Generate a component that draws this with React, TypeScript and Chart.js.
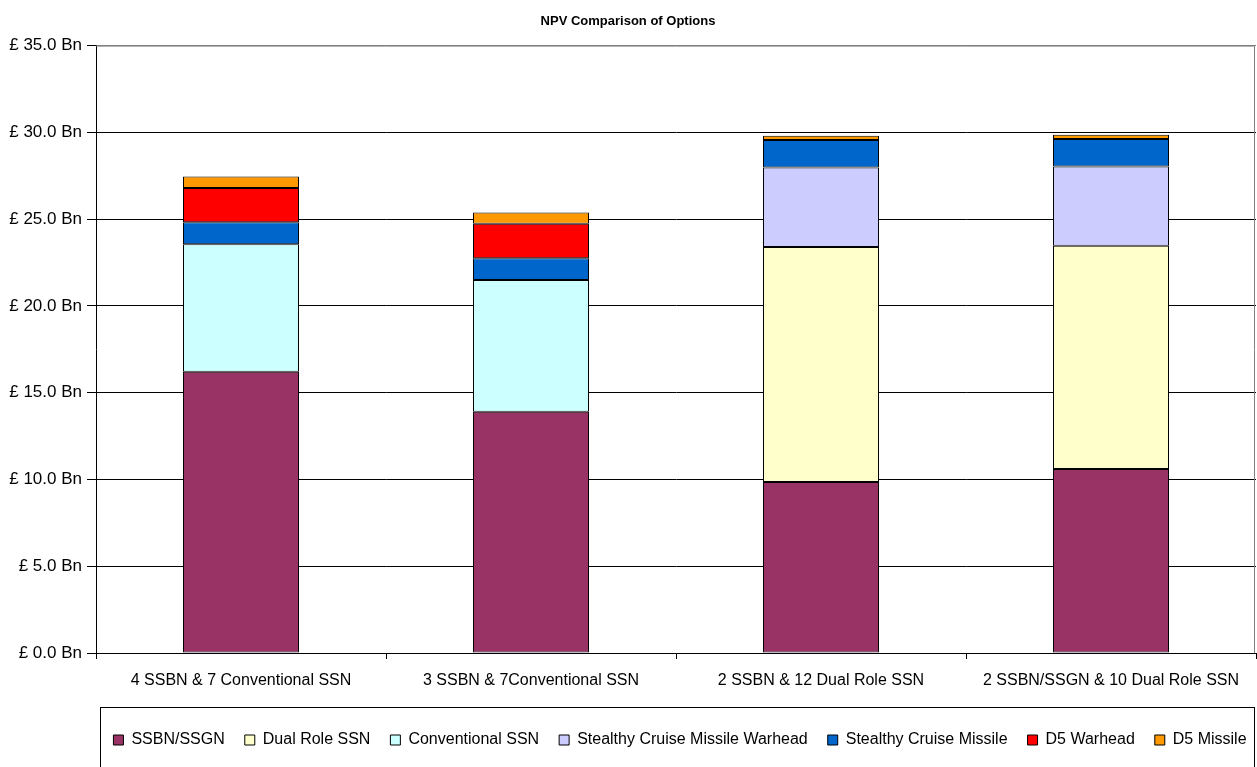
import React, { useEffect, useRef } from "react";
import { Chart, registerables } from "chart.js";

Chart.register(...registerables);

const categories = [
  "4 SSBN & 7 Conventional SSN",
  "3 SSBN & 7Conventional SSN",
  "2 SSBN & 12 Dual Role SSN",
  "2 SSBN/SSGN & 10 Dual Role SSN",
];

const seriesNames = [
  "SSBN/SSGN",
  "Dual Role SSN",
  "Conventional SSN",
  "Stealthy Cruise Missile Warhead",
  "Stealthy Cruise Missile",
  "D5 Warhead",
  "D5 Missile",
];

const ssbnSsgn = [16.2, 13.9, 9.85, 10.6];
const dualRoleSsn = [null, null, 13.55, 12.87];
const conventionalSsn = [7.35, 7.6, null, null];
const stealthyWarhead = [null, null, 4.57, 4.57];
const stealthyMissile = [1.27, 1.25, 1.59, 1.58];
const d5Warhead = [1.98, 1.98, null, null];
const d5Missile = [0.65, 0.65, 0.24, 0.25];

const seriesValues = [
  ssbnSsgn,
  dualRoleSsn,
  conventionalSsn,
  stealthyWarhead,
  stealthyMissile,
  d5Warhead,
  d5Missile,
];

const seriesColors = [
  "#993366",
  "#FFFFCC",
  "#CCFFFF",
  "#CCCCFF",
  "#0066CC",
  "#FF0000",
  "#FF9900",
];

const yTicks = [0, 5, 10, 15, 20, 25, 30, 35];
const yMax = 35;

const FONT = '"Liberation Sans", Arial, Helvetica, sans-serif';

const framePlugin = {
  id: "frame",
  afterLayout(chart: any) {
    const { legend, chartArea } = chart;
    if (legend) {
      const widen = 45;
      legend.left = chartArea.left + 8 - widen;
      legend.right = legend.right + widen;
    }
  },
  beforeDatasetsDraw(chart: any) {
    const { ctx, chartArea } = chart;
    ctx.save();
    ctx.strokeStyle = "#808080";
    ctx.lineWidth = 1;
    ctx.beginPath();
    ctx.moveTo(chartArea.left, chartArea.top + 0.5);
    ctx.lineTo(chartArea.right - 1.5, chartArea.top + 0.5);
    ctx.lineTo(chartArea.right - 1.5, chartArea.bottom);
    ctx.stroke();
    ctx.restore();
  },
  afterDraw(chart: any) {
    const { ctx, chartArea, legend } = chart;
    if (!legend) return;
    ctx.save();
    ctx.strokeStyle = "#000";
    ctx.lineWidth = 1;
    const left = chartArea.left + 4.5;
    const top = legend.top - 4.5;
    const right = chartArea.right - 1.5;
    ctx.strokeRect(left, top, right - left, 200);
    ctx.restore();
  },
};

export default function App() {
  const canvasRef = useRef<HTMLCanvasElement | null>(null);

  useEffect(() => {
    if (!canvasRef.current) return;
    const chart = new Chart(canvasRef.current, {
      type: "bar",
      data: {
        labels: categories,
        datasets: seriesNames.map((name, i) => ({
          label: name,
          data: seriesValues[i] as any,
          backgroundColor: seriesColors[i],
          borderColor: "#000000",
          borderWidth: 1,
          borderSkipped: false,
          categoryPercentage: 1,
          barPercentage: 0.4,
        })),
      },
      options: {
        responsive: false,
        animation: false,
        layout: { padding: { left: 0, right: 1, top: 0, bottom: 9 } },
        plugins: {
          title: {
            display: true,
            text: "NPV Comparison of Options",
            color: "#000",
            font: { family: FONT, size: 13, weight: "bold" },
            padding: { top: 14, bottom: 16 },
          },
          legend: {
            display: true,
            position: "bottom",
            labels: {
              color: "#000",
              font: { family: FONT, size: 16 },
              boxWidth: 10,
              boxHeight: 10,
              padding: 20,
            },
          },
          tooltip: { enabled: false },
        },
        scales: {
          x: {
            stacked: true,
            offset: true,
            grid: {
              offset: true,
              drawOnChartArea: false,
              drawTicks: true,
              tickLength: 6,
              color: "#000",
            },
            border: { color: "#000", width: 1 },
            ticks: {
              color: "#000",
              font: { family: FONT, size: 16 },
              padding: 12,
              maxRotation: 0,
            },
            afterFit(scale: any) {
              scale.height = 59;
            },
          },
          y: {
            stacked: true,
            min: 0,
            max: yMax,
            afterBuildTicks(scale: any) {
              scale.ticks = yTicks.map((v) => ({ value: v }));
            },
            grid: {
              color: (c: any) => (c.tick && c.tick.value === yMax ? "#808080" : "#000"),
              tickLength: 9,
              tickColor: "#000",
            },
            border: { color: "#000", width: 1 },
            ticks: {
              color: "#000",
              font: { family: FONT, size: 17 },
              padding: 5,
              callback: (v: any) => "£ " + Number(v).toFixed(1) + " Bn",
            },
            afterFit(scale: any) {
              scale.width = 96;
            },
          },
        },
      },
      plugins: [framePlugin],
    } as any);
    return () => chart.destroy();
  }, []);

  return (
    <div style={{ position: "fixed", left: 0, top: 0, width: 1257, height: 767, background: "#fff" }}>
      <canvas ref={canvasRef} width={1257} height={767} style={{ display: "block" }} />
    </div>
  );
}
